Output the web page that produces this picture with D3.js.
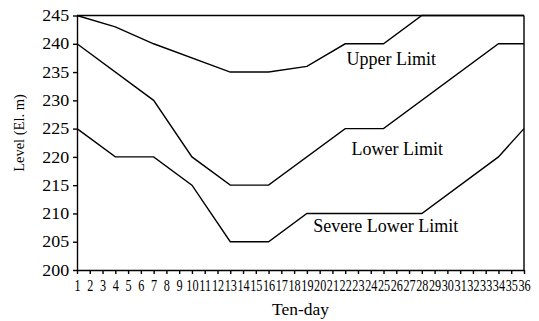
<!DOCTYPE html>
<html lang="en">
<head>
    <meta charset="UTF-8">
    <title>Reservoir level limits by ten-day</title>
    <style>
        body { margin: 0; background: #fff; }
        svg text { font-family: "Liberation Serif", "Times New Roman", serif; fill: #000; }
    </style>
</head>
<body>
    <svg width="539" height="321"></svg>
    <script src="https://cdn.jsdelivr.net/npm/d3@7"></script>
    <script>
        // ten-day periods on the x axis
        var tenDays = [1, 2, 3, 4, 5, 6, 7, 8, 9, 10, 11, 12, 13, 14, 15, 16, 17, 18,
                       19, 20, 21, 22, 23, 24, 25, 26, 27, 28, 29, 30, 31, 32, 33, 34, 35, 36];
        var levelTicks = [200, 205, 210, 215, 220, 225, 230, 235, 240, 245];

        // break points of each limit curve (ten-day, level)
        var upperDays = [1, 4, 7, 13, 16, 19, 22, 25, 28, 36];
        var upperLevel = [245, 243, 240, 235, 235, 236, 240, 240, 245, 245];

        var lowerDays = [1, 7, 10, 13, 16, 22, 25, 34, 36];
        var lowerLevel = [240, 230, 220, 215, 215, 225, 225, 240, 240];

        var severeDays = [1, 4, 7, 10, 13, 16, 19, 28, 34, 36];
        var severeLevel = [225, 220, 220, 215, 205, 205, 210, 210, 220, 225];

        var svg = d3.select("svg"),
            margin = {top: 15.5, right: 15, bottom: 51, left: 77},
            width = 539 - margin.left - margin.right,
            height = 321 - margin.top - margin.bottom,
            g = svg.append("g").attr("transform", "translate(" + margin.left + "," + margin.top + ")");

        var x = d3.scaleLinear().domain([1, 36]).range([0, width]);
        var y = d3.scaleLinear().domain([200, 245]).range([height, 0]);

        // axes
        var xAxis = g.append("g")
            .attr("transform", "translate(0," + height + ")")
            .call(d3.axisBottom(x).tickValues(tenDays).tickFormat(d3.format("d"))
                .tickSize(4).tickSizeOuter(0).tickPadding(5));
        xAxis.selectAll("text")
            .attr("transform", "scale(0.74,1)")
            .style("font-size", "16.5px");

        var yAxis = g.append("g")
            .call(d3.axisLeft(y).tickValues(levelTicks).tickSize(4).tickSizeOuter(0).tickPadding(3));
        yAxis.selectAll("text")
            .attr("transform", "scale(1.12,1)")
            .style("font-size", "16px");

        g.selectAll(".domain, .tick line").attr("stroke", "#000").attr("stroke-width", 1.4);

        // box top and right
        g.append("line").attr("x1", 0).attr("x2", width).attr("y1", 0).attr("y2", 0)
            .attr("stroke", "#000").attr("stroke-width", 1.4);
        g.append("line").attr("x1", width).attr("x2", width).attr("y1", 0).attr("y2", height)
            .attr("stroke", "#000").attr("stroke-width", 1.4);

        var line = d3.line()
            .x(function(d) { return x(d[0]); })
            .y(function(d) { return y(d[1]); });

        var series = [
            {name: "Upper Limit", days: upperDays, level: upperLevel},
            {name: "Lower Limit", days: lowerDays, level: lowerLevel},
            {name: "Severe Lower Limit", days: severeDays, level: severeLevel}
        ];

        g.selectAll(".limit")
            .data(series)
            .enter()
            .append("path")
            .attr("class", "limit")
            .attr("fill", "none")
            .attr("stroke", "#000")
            .attr("stroke-width", 1.4)
            .attr("d", function(d) { return line(d3.zip(d.days, d.level)); });

        // curve labels
        var labelPos = {"Upper Limit": [22.1, 236.2], "Lower Limit": [22.5, 220.3], "Severe Lower Limit": [19.5, 206.8]};
        g.selectAll(".limit-label")
            .data(series)
            .enter()
            .append("text")
            .attr("class", "limit-label")
            .attr("x", function(d) { return x(labelPos[d.name][0]); })
            .attr("y", function(d) { return y(labelPos[d.name][1]); })
            .style("font-size", "18px")
            .text(function(d) { return d.name; });

        // axis titles
        svg.append("text")
            .attr("x", margin.left + width / 2)
            .attr("y", 315)
            .attr("text-anchor", "middle")
            .style("font-size", "17.5px")
            .text("Ten-day");

        svg.append("text")
            .attr("transform", "translate(24,133) rotate(-90)")
            .attr("text-anchor", "middle")
            .style("font-size", "14.5px")
            .text("Level (El. m)");
    </script>
</body>
</html>
